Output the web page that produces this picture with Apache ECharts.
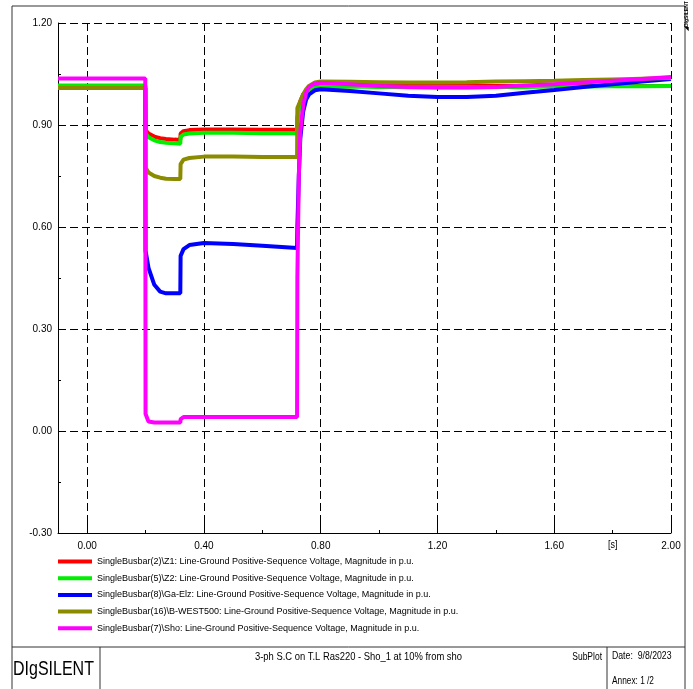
<!DOCTYPE html>
<html>
<head>
<meta charset="utf-8">
<script src="https://cdn.jsdelivr.net/npm/echarts@6/dist/echarts.min.js"></script>
<style>
  html, body { margin: 0; padding: 0; background: #fff; }
  #chart { width: 693px; height: 689px; }
</style>
</head>
<body>
<div id="chart"></div>
<script>
// time axis [s]
const time = [-0.1, 0.199, 0.2, 0.21, 0.23, 0.25, 0.27, 0.3, 0.319, 0.32, 0.33, 0.35, 0.4, 0.5, 0.6, 0.719,
  0.72, 0.725, 0.73, 0.74, 0.75, 0.76, 0.78, 0.8, 0.9, 1.0, 1.1, 1.2, 1.3, 1.4, 1.5, 1.6, 1.7, 1.8, 1.9, 2.0]

// voltages in p.u.
const z1 = [1.015, 1.015, 0.885, 0.875, 0.866, 0.861, 0.859, 0.857, 0.856, 0.875, 0.882, 0.885, 0.887, 0.887, 0.886, 0.886,
  0.92, 0.95, 0.97, 0.99, 1.0, 1.007, 1.013, 1.015, 1.016, 1.015, 1.015, 1.015, 1.015, 1.015, 1.015, 1.015, 1.015, 1.015, 1.015, 1.015]
const z2 = [1.016, 1.016, 0.875, 0.864, 0.855, 0.85, 0.848, 0.846, 0.845, 0.865, 0.872, 0.875, 0.877, 0.877, 0.876, 0.876,
  0.915, 0.945, 0.965, 0.985, 0.997, 1.004, 1.01, 1.012, 1.013, 1.012, 1.011, 1.011, 1.011, 1.012, 1.012, 1.013, 1.013, 1.014, 1.014, 1.015]
const gaElz = [1.009, 1.009, 0.53, 0.48, 0.43, 0.41, 0.405, 0.405, 0.405, 0.515, 0.535, 0.547, 0.553, 0.55, 0.545, 0.538,
  0.6, 0.75, 0.86, 0.94, 0.975, 0.99, 1.002, 1.005, 1.0, 0.993, 0.986, 0.982, 0.982, 0.986, 0.995, 1.003, 1.012, 1.02, 1.028, 1.035]
const bWest = [1.009, 1.009, 0.775, 0.76, 0.75, 0.745, 0.742, 0.741, 0.741, 0.785, 0.798, 0.803, 0.807, 0.807, 0.806, 0.806,
  0.95, 0.96, 0.97, 0.99, 1.005, 1.015, 1.025, 1.028, 1.027, 1.026, 1.025, 1.025, 1.026, 1.028, 1.029, 1.03, 1.032, 1.034, 1.036, 1.038]
const sho = [1.037, 1.037, 0.05, 0.028, 0.025, 0.025, 0.025, 0.025, 0.025, 0.035, 0.041, 0.041, 0.041, 0.041, 0.041, 0.041,
  0.45, 0.75, 0.88, 0.96, 0.995, 1.012, 1.022, 1.024, 1.02, 1.015, 1.012, 1.01, 1.01, 1.012, 1.016, 1.02, 1.025, 1.03, 1.035, 1.041]

const names = [
  'SingleBusbar(2)\\Z1: Line-Ground Positive-Sequence Voltage, Magnitude in p.u.',
  'SingleBusbar(5)\\Z2: Line-Ground Positive-Sequence Voltage, Magnitude in p.u.',
  'SingleBusbar(8)\\Ga-Elz: Line-Ground Positive-Sequence Voltage, Magnitude in p.u.',
  'SingleBusbar(16)\\B-WEST500: Line-Ground Positive-Sequence Voltage, Magnitude in p.u.',
  'SingleBusbar(7)\\Sho: Line-Ground Positive-Sequence Voltage, Magnitude in p.u.'
]
const values = [z1, z2, gaElz, bWest, sho]
const colors = ['#ff0000', '#00ee00', '#0000ff', '#8b8b00', '#ff00ff']

const xMajor = [0, 0.4, 0.8, 1.2, 1.6, 2.0]
const xMinor = [0.2, 0.6, 1.0, 1.4, 1.8]

const font = '"Liberation Sans", Arial, sans-serif'
const dash = { color: '#000', width: 1, type: [8, 4] }

const chart = echarts.init(document.getElementById('chart'))

// narrow-looking text for the frame (scaled horizontally)
function label(text, x, y, size, sx, align) {
  return {
    type: 'text', x: x, y: y, scaleX: sx, originX: 0, silent: true,
    style: { text: text, font: size + 'px ' + font, fill: '#000', align: align || 'left', verticalAlign: 'middle' }
  }
}

chart.setOption({
  animation: false,
  textStyle: { fontFamily: font },
  grid: { left: 58, right: 22, top: 23, bottom: 156 },
  legend: {
    orient: 'vertical',
    left: 58,
    top: 557,
    padding: 0,
    itemGap: 7.7,
    itemWidth: 34,
    itemHeight: 4,
    icon: 'rect',
    textStyle: { fontSize: 9, color: '#000', fontFamily: font },
    data: names
  },
  xAxis: [
    {
      type: 'value',
      min: -0.1,
      max: 2.0,
      position: 'bottom',
      axisLine: { onZero: false, lineStyle: { color: '#000', width: 1 } },
      axisTick: { inside: true, length: 12, customValues: xMajor, lineStyle: { color: '#000' } },
      axisLabel: {
        customValues: xMajor,
        color: '#000',
        fontSize: 10,
        margin: 8,
        formatter: v => v.toFixed(2)
      },
      splitLine: { show: true, lineStyle: dash }
    },
    {
      type: 'value',
      min: -0.1,
      max: 2.0,
      position: 'bottom',
      axisLine: { show: false, onZero: false },
      axisTick: { inside: true, length: 3, customValues: xMinor, lineStyle: { color: '#000' } },
      axisLabel: { show: false },
      splitLine: { show: false }
    }
  ],
  yAxis: {
    type: 'value',
    min: -0.3,
    max: 1.2,
    interval: 0.3,
    axisLine: { show: true, onZero: false, lineStyle: { color: '#000', width: 1 } },
    axisTick: { show: true, inside: true, length: 4, lineStyle: { color: '#000' } },
    minorTick: { show: true, splitNumber: 2, length: 3, lineStyle: { color: '#000' } },
    axisLabel: { color: '#000', fontSize: 10, margin: 6, formatter: v => v.toFixed(2) },
    splitLine: { show: true, lineStyle: dash }
  },
  series: names.map((name, i) => ({
    name: name,
    type: 'line',
    xAxisIndex: 0,
    showSymbol: false,
    color: colors[i],
    lineStyle: { width: 4, color: colors[i] },
    data: time.map((t, k) => [t, values[i][k]])
  })),
  graphic: [
    // outer frame
    { type: 'rect', shape: { x: 12, y: 6, width: 673, height: 700 }, style: { fill: 'none', stroke: '#333', lineWidth: 1 }, silent: true },
    // footer
    { type: 'line', shape: { x1: 12, y1: 647, x2: 685, y2: 647 }, style: { stroke: '#333', lineWidth: 1 } },
    { type: 'line', shape: { x1: 100, y1: 647, x2: 100, y2: 689 }, style: { stroke: '#333', lineWidth: 1 } },
    { type: 'line', shape: { x1: 607, y1: 647, x2: 607, y2: 689 }, style: { stroke: '#333', lineWidth: 1 } },
    label('DIgSILENT', 13, 669, 20, 0.8),
    label('3-ph S.C on T.L Ras220 - Sho_1 at 10% from sho', 255, 657, 11, 0.855),
    label('SubPlot', 602, 657, 10, 0.85, 'right'),
    label('Date:  9/8/2023', 612, 656, 10, 0.87),
    label('Annex: 1 /2', 612, 681, 10, 0.83),
    // unit label on time axis
    label('[s]', 608, 545, 10, 0.9),
    // small rotated logo
    { type: 'text', x: 684, y: 31, rotation: Math.PI / 2, silent: true, style: { text: '◢DIgSILENT', font: 'bold 5px ' + font, fill: '#000' } }
  ]
})
</script>
</body>
</html>
